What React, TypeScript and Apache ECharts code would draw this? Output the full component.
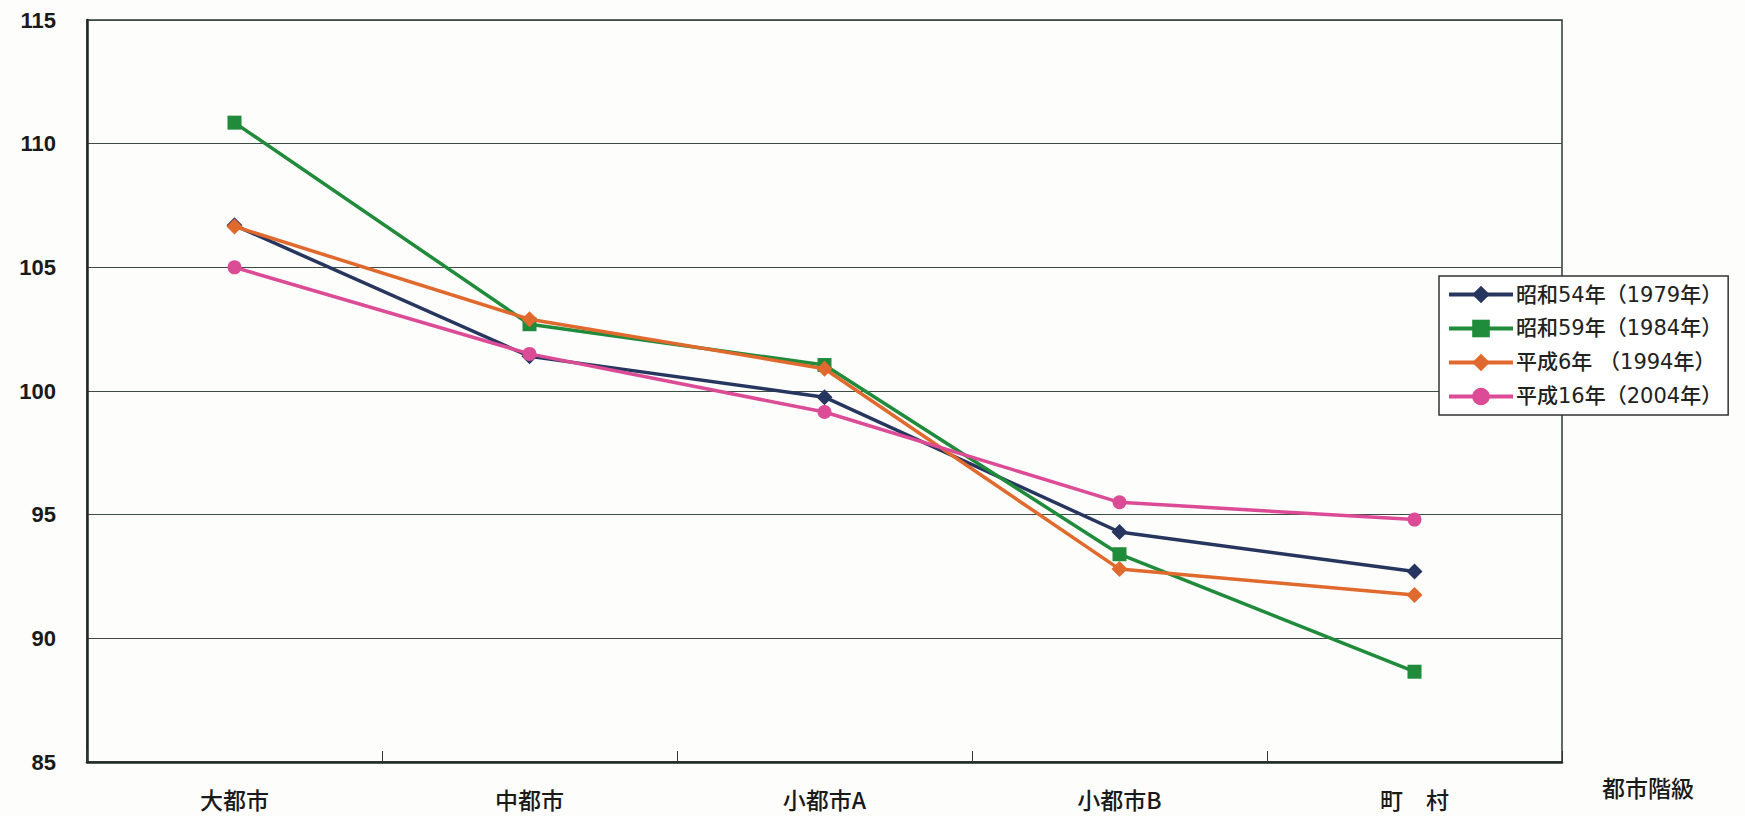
import React, { useEffect, useRef } from "react";
import * as echarts from "echarts";

const categories = ["大都市", "中都市", "小都市A", "小都市B", "町\u3000村"];
const seriesNames = ["昭和54年（1979年）", "昭和59年（1984年）", "平成6年 （1994年）", "平成16年（2004年）"];
const s1979 = [106.7, 101.4, 99.75, 94.3, 92.7];
const s1984 = [110.85, 102.7, 101.05, 93.4, 88.65];
const s1994 = [106.65, 102.9, 100.9, 92.8, 91.75];
const s2004 = [105.0, 101.5, 99.15, 95.5, 94.8];
const yTicks = { min: 85, max: 115, interval: 5 };

const colors = ["#27365f", "#1f8b3b", "#e0692d", "#dc4b95"];
const symbols = ["diamond", "rect", "diamond", "circle"];
const symbolSizes = [16, 14, 16, 14];

export default function App() {
  const ref = useRef<HTMLDivElement>(null);
  useEffect(() => {
    if (!ref.current) return;
    const chart = echarts.init(ref.current, undefined, { renderer: "svg" });
    const data = [s1979, s1984, s1994, s2004];
    chart.setOption({
      animation: false,
      backgroundColor: "#fdfdfb",
      grid: {
        left: 87,
        right: 183,
        top: 20,
        bottom: 54,
        show: true,
        borderColor: "#2d3a33",
        borderWidth: 1.5,
        backgroundColor: "transparent",
      },
      legend: {
        orient: "vertical",
        left: 1439,
        top: 276,
        padding: [8, 6, 8, 8],
        itemGap: 13,
        itemWidth: 64,
        itemHeight: 22,
        borderColor: "#333",
        borderWidth: 1.5,
        backgroundColor: "#ffffff",
        lineStyle: { width: 4 },
        textStyle: {
          fontFamily: "'DejaVu Sans', 'Noto Sans CJK JP', sans-serif",
          fontSize: 21,
          color: "#222",
          fontWeight: 500,
          padding: [0, 0, 0, -2],
        },
        data: seriesNames,
      },
      xAxis: {
        type: "category",
        data: categories,
        boundaryGap: true,
        axisLine: { show: true, lineStyle: { color: "#1f2a24", width: 2.5 } },
        axisTick: { show: true, inside: true, length: 11, lineStyle: { color: "#333", width: 1 } },
        axisLabel: {
          margin: 25,
          fontFamily: "'Noto Sans CJK JP', sans-serif",
          fontSize: 23,
          fontWeight: 500,
          color: "#1a1a1a",
        },
        splitLine: { show: false },
      },
      yAxis: {
        type: "value",
        min: yTicks.min,
        max: yTicks.max,
        interval: yTicks.interval,
        axisLine: { show: true, lineStyle: { color: "#1f2a24", width: 2.5 } },
        axisTick: { show: false },
        axisLabel: {
          margin: 31,
          fontFamily: "'Liberation Sans', Arial, sans-serif",
          fontSize: 22,
          fontWeight: "bold",
          color: "#1a1a1a",
        },
        splitLine: { show: true, lineStyle: { color: "#3e4d44", width: 1 } },
      },
      graphic: [
        {
          type: "text",
          left: 1602,
          top: 775,
          style: {
            text: "都市階級",
            fontFamily: "'Noto Sans CJK JP', sans-serif",
            fontSize: 23,
            fontWeight: 500,
            fill: "#1a1a1a",
          },
        },
      ],
      series: seriesNames.map((name, i) => ({
        name,
        type: "line",
        data: data[i],
        symbol: symbols[i],
        symbolSize: symbolSizes[i],
        showSymbol: true,
        lineStyle: { color: colors[i], width: 3.5 },
        itemStyle: { color: colors[i] },
        z: 3 + i,
      })),
    });
    return () => chart.dispose();
  }, []);
  return <div ref={ref} style={{ width: 1745, height: 816, position: "absolute", left: 0, top: 0 }} />;
}
